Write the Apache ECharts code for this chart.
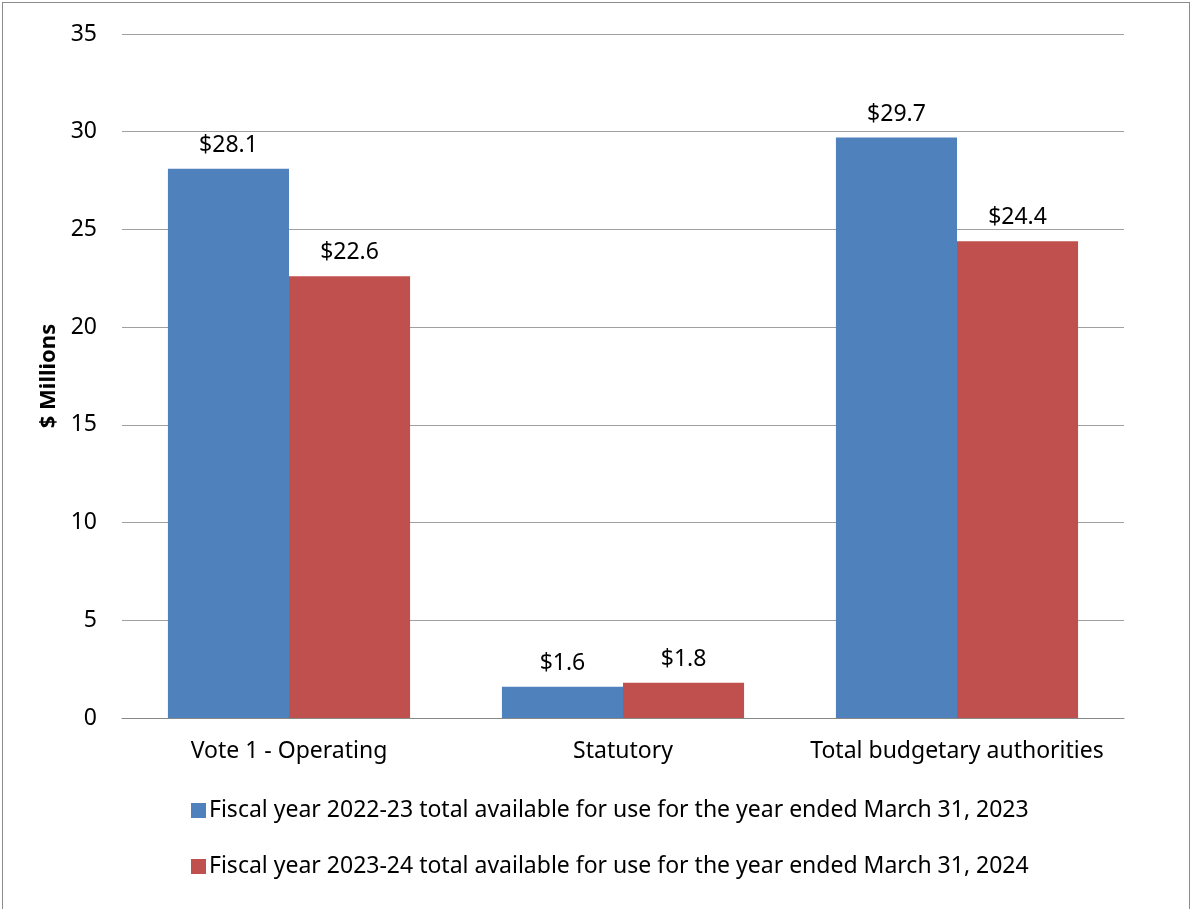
<!DOCTYPE html>
<html>
<head>
<meta charset="utf-8">
<script src="https://cdn.jsdelivr.net/npm/echarts@6/dist/echarts.min.js"></script>
<style>
  html, body { margin: 0; padding: 0; background: #fff; }
  #frame { position: absolute; left: 2px; top: 2px; width: 1188px; height: 912px; border: 1px solid #8c8c8c; box-sizing: border-box; }
  #chart { position: absolute; left: 0; top: 0; width: 1192px; height: 909px; }
</style>
</head>
<body>
<div id="frame"></div>
<div id="chart"></div>
<script>
// chart data
var categories = ["Vote 1 - Operating", "Statutory", "Total budgetary authorities"];
var seriesNames = [
    "Fiscal year 2022-23 total available for use for the year ended March 31, 2023",
    "Fiscal year 2023-24 total available for use for the year ended March 31, 2024"
];
var values2023 = [28.1, 1.6, 29.7];
var values2024 = [22.6, 1.8, 24.4];
var yTicks = { min: 0, max: 35, interval: 5 };

var fontFamily = "'Noto Sans', 'Open Sans', sans-serif";
var colors = ["#4f81bd", "#c0504d"];

function labelFmt(p) {
    return "$" + p.value.toFixed(1);
}

function makeSeries(name, data, color) {
    return {
        name: name,
        type: "bar",
        data: data,
        barGap: "0%",
        barCategoryGap: "27.5%",
        itemStyle: { color: color },
        label: {
            show: true,
            position: "top",
            distance: 12,
            formatter: labelFmt,
            color: "#000",
            fontSize: 23,
            fontFamily: fontFamily
        }
    };
}

var chart = echarts.init(document.getElementById("chart"));
chart.setOption({
    animation: false,
    textStyle: { fontFamily: fontFamily },
    grid: { left: 122, right: 68, top: 34, bottom: 191, containLabel: false },
    legend: {
        orient: "vertical",
        left: 186,
        top: 794,
        itemGap: 33,
        itemWidth: 15,
        itemHeight: 15,
        icon: "rect",
        textStyle: { fontSize: 23, color: "#000", fontFamily: fontFamily, padding: [0, 0, 0, -2] },
        data: seriesNames
    },
    xAxis: {
        type: "category",
        data: categories,
        axisLine: { lineStyle: { color: "#888", width: 1 } },
        axisTick: { show: false },
        axisLabel: { color: "#000", fontSize: 23, margin: 22, interval: 0, hideOverlap: false, fontFamily: fontFamily }
    },
    yAxis: {
        type: "value",
        min: yTicks.min,
        max: yTicks.max,
        interval: yTicks.interval,
        name: "$ Millions",
        nameLocation: "middle",
        nameGap: 62,
        nameRotate: 90,
        nameTextStyle: { color: "#000", fontSize: 22, fontWeight: "bold", fontFamily: fontFamily },
        axisLine: { show: false },
        axisTick: { show: false },
        axisLabel: { color: "#000", fontSize: 23, margin: 25, fontFamily: fontFamily },
        splitLine: { lineStyle: { color: "#a0a0a0", width: 1 } }
    },
    series: [
        makeSeries(seriesNames[0], values2023, colors[0]),
        makeSeries(seriesNames[1], values2024, colors[1])
    ]
});
</script>
</body>
</html>
